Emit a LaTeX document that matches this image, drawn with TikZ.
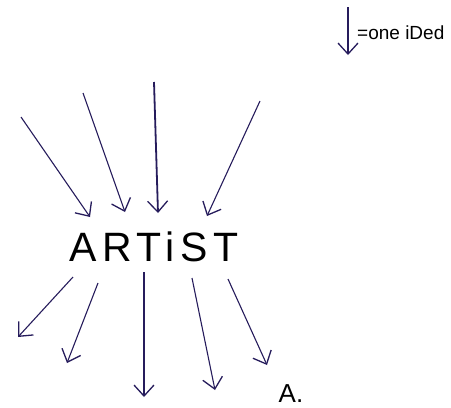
\documentclass[tikz,border=0pt]{standalone}
\usepackage{fontspec}
\setmainfont{Liberation Sans}
\newfontfamily\handfont[LetterSpace=14]{Liberation Sans}
\usepackage{tikz}
\usetikzlibrary{arrows.meta, positioning}
\definecolor{myink}{RGB}{38,28,92}
\tikzset{
  idea/.style={-{Straight Barb[length=11pt, width=20pt, line width=1.3pt]}, line width=1.1pt, color=myink},
  bigidea/.style={idea, line width=1.8pt},
  word/.style={inner sep=0pt, color=black}
}
\begin{document}
\begin{tikzpicture}[x=1pt, y=-1pt]
  \useasboundingbox (0,0) rectangle (451,408);
  % legend
  \coordinate (k1) at (348,7);
  \coordinate (k2) at (348,55);
  \draw[idea] (k1) -- (k2);
  \node[word, anchor=west, font=\fontsize{19}{21}\selectfont] (key) at (357,33) {=one iDed};

  \node[word, font=\handfont\fontsize{41}{45}\selectfont] (artist) at (154,247) {ARTiST};

  % ideas coming in
  \coordinate (in1) at (21,117);
  \coordinate (in2) at (83,93);
  \coordinate (in3) at (154,82);
  \coordinate (in4) at (260,101);
  \coordinate (a1) at (90,217);
  \coordinate (a2) at (125,212);
  \coordinate (a3) at (158,213);
  \coordinate (a4) at (207,216);
  \draw[idea] (in1) -- (a1);
  \draw[idea] (in2) -- (a2);
  \draw[bigidea] (in3) -- (a3);
  \draw[idea] (in4) -- (a4);

  % ideas going out
  \coordinate (o1) at (73,277);
  \coordinate (o2) at (98,283);
  \coordinate (o3) at (144,272);
  \coordinate (o4) at (192,278);
  \coordinate (o5) at (228,279);
  \coordinate (b1) at (18,337);
  \coordinate (b2) at (67,363);
  \coordinate (b3) at (144,397);
  \coordinate (b4) at (215,390);
  \coordinate (b5) at (267,365);
  \foreach \i in {1,...,5}
    \draw[idea] (o\i) -- (b\i);

  \node[word, font=\fontsize{26}{28}\selectfont] (sign) at (291,394) {A.};
\end{tikzpicture}
\end{document}
